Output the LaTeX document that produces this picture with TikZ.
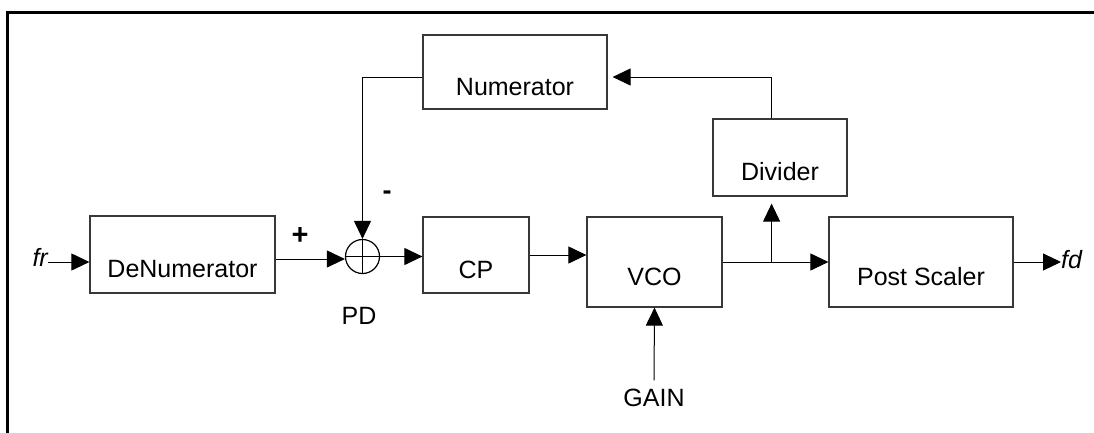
\documentclass[tikz,border=0pt]{standalone}
\usepackage{fontspec}
\setmainfont{Liberation Sans}
\usetikzlibrary{arrows.meta,calc}
\begin{document}
\begin{tikzpicture}[x=1pt,y=-1pt,
  font=\fontsize{25}{30}\selectfont,
  blk/.style={draw=black!78,line width=1.2pt,rectangle,inner sep=0pt,text height=46pt,text depth=0pt},
  txt/.style={inner sep=0pt},
  conn/.style={line width=1pt,-{Triangle[length=18pt,width=17pt]}},
  wire/.style={line width=1pt}]
\useasboundingbox (0,0) rectangle (1094,432);
\draw[line width=3pt] (7.5,433) -- (7.5,12) -- (1095,12);
% blocks
\node[blk,minimum width=185pt,minimum height=77pt] (den) at (182.5,254.5) {DeNumerator};
\node[blk,minimum width=106pt,minimum height=76pt] (cp) at (476,255) {CP};
\node[blk,minimum width=135pt,minimum height=90pt] (vco) at (654.5,262) {VCO};
\node[blk,minimum width=184pt,minimum height=90pt] (ps) at (921,262) {Post Scaler};
\node[blk,minimum width=184pt,minimum height=74pt] (num) at (515,72) {Numerator};
\node[blk,minimum width=134pt,minimum height=77pt] (div) at (780,157.5) {Divider};
\node[circle,draw=black,line width=1.2pt,minimum size=34pt,inner sep=0pt,
  path picture={\draw[line width=1pt] (path picture bounding box.north) -- (path picture bounding box.south)
  (path picture bounding box.west) -- (path picture bounding box.east);}] (pd) at (362.5,256.5) {};
% texts
\node[txt,anchor=base east,font=\fontsize{25}{30}\selectfont\itshape] (fr) at (48,266) {fr};
\node[txt,anchor=base west,font=\fontsize{25}{30}\selectfont\itshape] (fd) at (1061,268) {fd};
\node[txt,anchor=base] (pdl) at (359,324) {PD};
\node[txt,anchor=base] (gain) at (654,406) {GAIN};
\node[txt,font=\fontsize{29}{34}\selectfont\bfseries] (plus) at (300,236) {+};
\node[txt,font=\fontsize{27}{32}\selectfont\bfseries] (minus) at (387,195) {-};
% connectors
\coordinate (frin) at ([yshift=-7.5pt]den.west);
\draw[conn] (frin -| fr.east) -- (frin);
\coordinate (dout) at ([yshift=-4.5pt]den.east);
\draw[conn] (dout) -- ([yshift=-2.5pt]pd.west);
\draw[conn] (pd.east) -- (pd.east -| cp.west);
\draw[conn] (cp.east) -- (cp.east -| vco.west);
\draw[conn] (vco.east) -- (ps.west);
\draw[conn] (ps.east) -- (ps.east -| fd.west);
\coordinate (br) at ([xshift=49pt]vco.east);
\draw[conn,shorten >=7pt] (br) -- (br |- div.south);
\draw[conn,shorten >=5pt] (br |- div.north) |- ([yshift=-5pt]num.east);
\draw[conn] ([yshift=-5pt]num.west) -| (pd.north);
\draw[conn] ([yshift=8pt]gain.north) -- (vco.south);
\end{tikzpicture}
\end{document}
